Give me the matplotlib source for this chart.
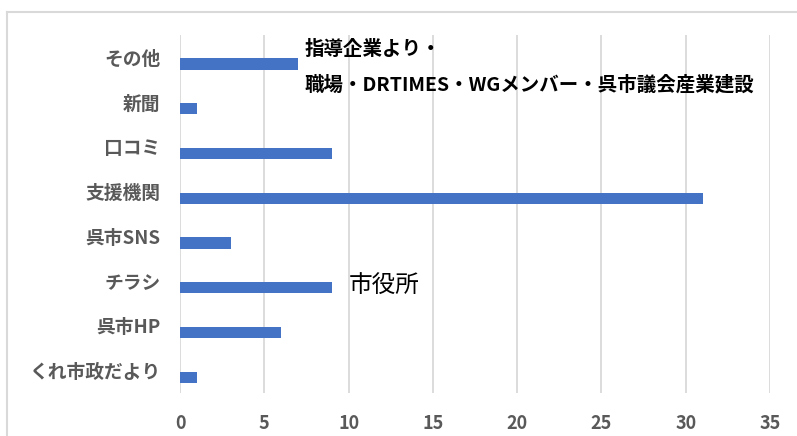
import matplotlib
matplotlib.use("Agg")
import matplotlib.pyplot as plt
from matplotlib.lines import Line2D

# bottom -> top
categories = ["くれ市政だより", "呉市HP", "チラシ", "呉市SNS", "支援機関", "口コミ", "新聞", "その他"]
counts = [1, 6, 9, 3, 31, 9, 1, 7]
xticks = [0, 5, 10, 15, 20, 25, 30, 35]

note_other_1 = "指導企業より・"
note_other_2 = "職場・DRTIMES・WGメンバー・呉市議会産業建設"
note_flyer = "市役所"

plt.rcParams["font.family"] = ["Noto Sans CJK JP", "DejaVu Sans"]

BAR_COLOR = "#4472C4"
GRID = "#d9d9d9"
LABEL = "#595959"

fig = plt.figure(figsize=(7.97, 4.36), dpi=100)
W, H = 797, 436
ax = fig.add_axes([180 / W, (H - 393) / H, (770 - 180) / W, (393 - 35) / H])

ypos = [i - 0.148 for i in range(len(categories))]
ax.barh(ypos, counts, height=0.25, color=BAR_COLOR, zorder=3)

ax.set_xlim(0, 35)
ax.set_ylim(-0.5, len(categories) - 0.5)
ax.set_xticks(xticks)
ax.set_yticks(range(len(categories)))
ax.set_yticklabels(categories)
ax.xaxis.grid(True, color=GRID, linewidth=1.3, zorder=0)
ax.tick_params(axis="both", length=0, labelcolor=LABEL)
ax.tick_params(axis="y", pad=14, labelsize=13.5)
ax.tick_params(axis="x", pad=15, labelsize=13)
for lab in ax.get_xticklabels() + ax.get_yticklabels():
    lab.set_fontweight("bold")
for s in ax.spines.values():
    s.set_visible(False)

# annotations
ax.text(7.4, 7.17, note_other_1, ha="left", va="center", fontsize=14,
        fontweight="bold", color="black")
ax.text(7.4, 6.38, note_other_2, ha="left", va="center", fontsize=14,
        fontweight="bold", color="black")
ax.text(10.0, 1.9, note_flyer, ha="left", va="center", fontsize=17, color="black")

# chart-area border (left and top edges only visible in the crop)
fig.add_artist(Line2D([7 / W, 7 / W], [0, 1 - 12 / H], color=GRID, linewidth=1.5))
fig.add_artist(Line2D([7 / W, 1], [1 - 12 / H, 1 - 12 / H], color=GRID, linewidth=1.5))

fig.savefig("out.png", dpi=100)
